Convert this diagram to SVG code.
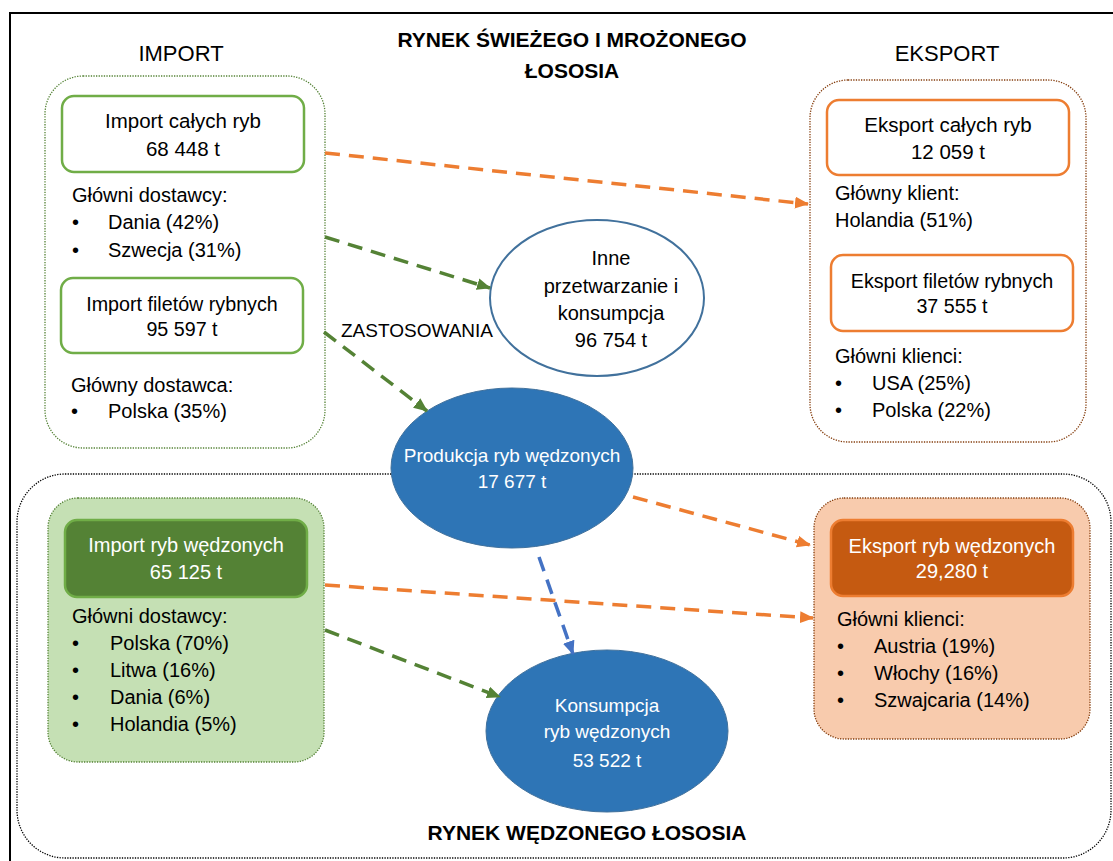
<svg xmlns="http://www.w3.org/2000/svg" width="1113" height="861" viewBox="0 0 1113 861">
<style>
text{font-family:"Liberation Sans",Arial,sans-serif;fill:#000;}
.t{font-size:20px;}
.bt{font-size:20.5px;}
.s{font-size:19.7px;}
.e{font-size:19px;fill:#fff;}
.w{font-size:20px;fill:#fff;}
.h{font-size:22px;}
.z{font-size:19px;}
.b{font-size:21px;font-weight:bold;}
.c{text-anchor:middle;}
.box{fill:#fff;stroke:#70AD47;stroke-width:2.5;}
.obox{fill:#fff;stroke:#ED7D31;stroke-width:2.5;}
.dot{fill:none;stroke-width:1.3;stroke-dasharray:1.3 1.3;}
.ln{fill:none;stroke-width:3.5;stroke-dasharray:15 9;}
</style>
<defs>
<marker id="ao" viewBox="0 0 14 12" refX="13" refY="6" markerWidth="14" markerHeight="12" markerUnits="userSpaceOnUse" orient="auto"><path d="M0,0 L14,6 L0,12 Z" fill="#ED7D31"/></marker>
<marker id="ag" viewBox="0 0 14 12" refX="13" refY="6" markerWidth="14" markerHeight="12" markerUnits="userSpaceOnUse" orient="auto"><path d="M0,0 L14,6 L0,12 Z" fill="#548235"/></marker>
<marker id="ab" viewBox="0 0 14 12" refX="13" refY="6" markerWidth="14" markerHeight="12" markerUnits="userSpaceOnUse" orient="auto"><path d="M0,0 L14,6 L0,12 Z" fill="#4472C4"/></marker>
</defs>
<rect x="0" y="0" width="1113" height="861" fill="#fff"/>
<rect x="10" y="13" width="1130" height="880" fill="none" stroke="#000" stroke-width="2"/>

<g id="smoked-market">
<rect x="17" y="474" width="1094" height="384" rx="48" class="dot" stroke="#000"/>
<text class="b c" x="587" y="840">RYNEK WĘDZONEGO ŁOSOSIA</text>
</g>

<g id="title">
<text class="b c" x="572" y="47">RYNEK ŚWIEŻEGO I MROŻONEGO</text>
<text class="b c" x="572" y="78">ŁOSOSIA</text>
</g>

<g id="import">
<text class="h c" x="181" y="61">IMPORT</text>
<rect x="45" y="76" width="280" height="372" rx="38" class="dot" stroke="#548235"/>
</g>
<g id="import-whole">
<rect x="62" y="96" width="242" height="76" rx="12" class="box"/>
<text class="bt c" x="183" y="128">Import całych ryb</text>
<text class="bt c" x="183" y="156">68 448 t</text>
<text class="t" x="72" y="202">Główni dostawcy:</text>
<text class="t" x="72" y="229">•</text><text class="t" x="108" y="229">Dania (42%)</text>
<text class="t" x="72" y="257">•</text><text class="t" x="108" y="257">Szwecja (31%)</text>
</g>
<g id="import-fillets">
<rect x="61" y="278" width="242" height="75" rx="12" class="box"/>
<text class="s c" x="182" y="311">Import filetów rybnych</text>
<text class="s c" x="182" y="336">95 597 t</text>
<text class="t" x="71" y="392">Główny dostawca:</text>
<text class="t" x="71" y="418">•</text><text class="t" x="108" y="418">Polska (35%)</text>
</g>

<g id="eksport">
<text class="h c" x="947" y="61">EKSPORT</text>
<rect x="810" y="80" width="276" height="362" rx="38" class="dot" stroke="#843C0C"/>
</g>
<g id="export-whole">
<rect x="827" y="100" width="242" height="75" rx="12" class="obox"/>
<text class="bt c" x="948" y="132">Eksport całych ryb</text>
<text class="bt c" x="948" y="159">12 059 t</text>
<text class="t" x="835" y="200">Główny klient:</text>
<text class="t" x="835" y="227">Holandia (51%)</text>
</g>
<g id="export-fillets">
<rect x="831" y="255" width="242" height="76" rx="12" class="obox"/>
<text class="s c" x="952" y="288">Eksport filetów rybnych</text>
<text class="s c" x="952" y="313">37 555 t</text>
<text class="t" x="835" y="363">Główni klienci:</text>
<text class="t" x="835" y="390">•</text><text class="t" x="872" y="390">USA (25%)</text>
<text class="t" x="835" y="417">•</text><text class="t" x="872" y="417">Polska (22%)</text>
</g>

<g id="other-use">
<ellipse cx="597" cy="298" rx="107" ry="78" fill="#fff" stroke="#41719C" stroke-width="2"/>
<text class="t c" x="611" y="265">Inne</text>
<text class="t c" x="611" y="293">przetwarzanie i</text>
<text class="t c" x="611" y="320">konsumpcja</text>
<text class="t c" x="611" y="347">96 754 t</text>
</g>
<g id="zastosowania">
<text class="z" x="341" y="337">ZASTOSOWANIA</text>
</g>

<g id="production">
<ellipse cx="512" cy="468" rx="121" ry="80" fill="#2E75B6" stroke="#41719C" stroke-width="1"/>
<text class="e c" x="512" y="462">Produkcja ryb wędzonych</text>
<text class="e c" x="512" y="488">17 677 t</text>
</g>

<g id="import-smoked">
<rect x="48" y="498" width="276" height="264" rx="30" fill="#C5E0B4" stroke="#548235" stroke-width="1.3" stroke-dasharray="1.3 1.3"/>
<rect x="65" y="520" width="242" height="77" rx="12" fill="#548235" stroke="#70AD47" stroke-width="2.5"/>
<text class="w c" x="186" y="552">Import ryb wędzonych</text>
<text class="w c" x="186" y="579">65 125 t</text>
<text class="t" x="72" y="623">Główni dostawcy:</text>
<text class="t" x="72" y="650">•</text><text class="t" x="110" y="650">Polska (70%)</text>
<text class="t" x="72" y="677">•</text><text class="t" x="110" y="677">Litwa (16%)</text>
<text class="t" x="72" y="704">•</text><text class="t" x="110" y="704">Dania (6%)</text>
<text class="t" x="72" y="731">•</text><text class="t" x="110" y="731">Holandia (5%)</text>
</g>

<g id="export-smoked">
<rect x="814" y="498" width="276" height="241" rx="30" fill="#F8CBAD" stroke="#843C0C" stroke-width="1.3" stroke-dasharray="1.3 1.3"/>
<rect x="831" y="520" width="242" height="76" rx="12" fill="#C55A11" stroke="#ED7D31" stroke-width="2.5"/>
<text class="w c" x="952" y="553">Eksport ryb wędzonych</text>
<text class="w c" x="952" y="578">29,280 t</text>
<text class="t" x="837" y="626">Główni klienci:</text>
<text class="t" x="837" y="653">•</text><text class="t" x="874" y="653">Austria (19%)</text>
<text class="t" x="837" y="680">•</text><text class="t" x="874" y="680">Włochy (16%)</text>
<text class="t" x="837" y="707">•</text><text class="t" x="874" y="707">Szwajcaria (14%)</text>
</g>

<g id="consumption">
<ellipse cx="607" cy="731" rx="121" ry="81" fill="#2E75B6" stroke="#41719C" stroke-width="1"/>
<text class="e c" x="607" y="712">Konsumpcja</text>
<text class="e c" x="607" y="738">ryb wędzonych</text>
<text class="e c" x="607" y="767">53 522 t</text>
</g>

<g id="connectors">
<path class="ln" d="M325,153 L808,204" stroke="#ED7D31" marker-end="url(#ao)"/>
<path class="ln" d="M325,237 L490,288" stroke="#548235" marker-end="url(#ag)"/>
<path class="ln" d="M324,332 L427,411" stroke="#548235" marker-end="url(#ag)"/>
<path class="ln" d="M633,497 L810,545" stroke="#ED7D31" marker-end="url(#ao)"/>
<path class="ln" d="M325,585 L813,618" stroke="#ED7D31" marker-end="url(#ao)"/>
<path class="ln" d="M325,630 L500,697" stroke="#548235" marker-end="url(#ag)"/>
<path class="ln" d="M539,557 L573,654" stroke="#4472C4" marker-end="url(#ab)"/>
</g>
</svg>
